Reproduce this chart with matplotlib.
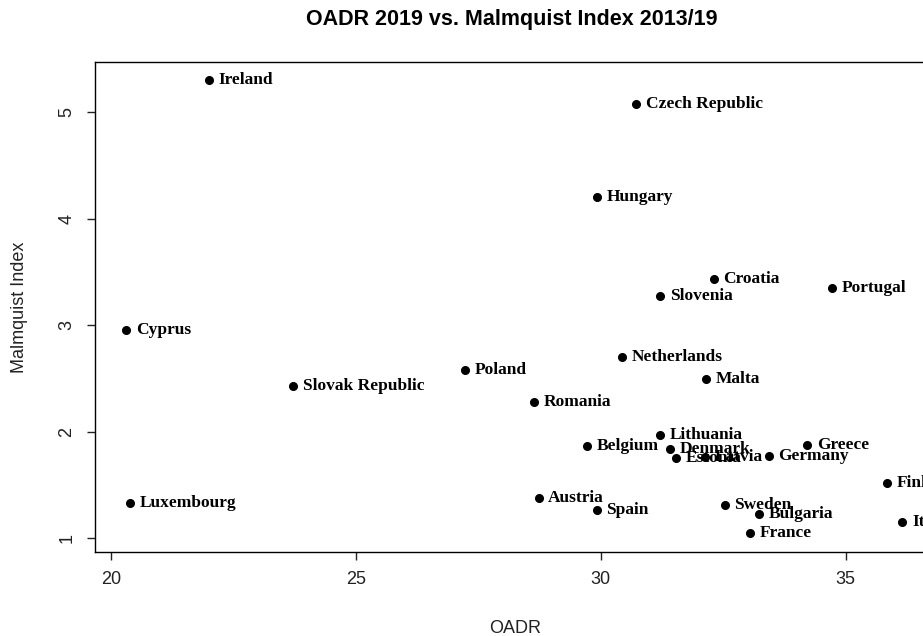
import numpy as np
import matplotlib
matplotlib.use("Agg")
import matplotlib.pyplot as plt

# data
countries = ["Ireland", "Czech Republic", "Hungary", "Croatia", "Portugal", "Slovenia",
             "Cyprus", "Netherlands", "Poland", "Malta", "Slovak Republic", "Romania",
             "Lithuania", "Belgium", "Denmark", "Greece", "Estonia", "Latvia", "Germany",
             "Finland", "Luxembourg", "Austria", "Spain", "Sweden", "Bulgaria", "France", "Italy"]
oadr = [22.0, 30.73, 29.92, 32.31, 34.73, 31.22,
        20.31, 30.43, 27.22, 32.14, 23.71, 28.63,
        31.22, 29.71, 31.41, 34.22, 31.53, 32.12, 33.43,
        35.84, 20.39, 28.73, 29.92, 32.53, 33.24, 33.04, 36.16]
malmquist = [5.30, 5.075, 4.20, 3.43, 3.35, 3.27,
             2.95, 2.70, 2.58, 2.49, 2.43, 2.28,
             1.97, 1.86, 1.84, 1.87, 1.75, 1.76, 1.77,
             1.52, 1.33, 1.38, 1.26, 1.31, 1.225, 1.05, 1.15]

W, H = 923, 636
fig = plt.figure(figsize=(W / 100, H / 100), dpi=100)
# plot region runs past the right edge, as in the cropped reference
ax = fig.add_axes([95 / W, (H - 552) / H, (941 - 95) / W, (552 - 62) / H])

ax.plot(oadr, malmquist, "o", color="black", markersize=5.5, linestyle="none")
for name, x, y in zip(countries, oadr, malmquist):
    ax.annotate(name, (x, y), xytext=(7, 0), textcoords="offset points",
                va="center", ha="left", fontsize=12.5, fontweight="bold",
                family="Liberation Serif", annotation_clip=False)

ax.set_xlim(19.67, 36.95)
ax.set_ylim(0.869, 5.47)
ax.set_xticks([20, 25, 30, 35])
ax.set_yticks([1, 2, 3, 4, 5])
for lab in ax.get_yticklabels():
    lab.set_rotation(90)
    lab.set_va("center")
ax.tick_params(direction="out", length=6, width=1, labelsize=13, pad=8, colors="#222222")
for sp in ax.spines.values():
    sp.set_linewidth(1)
    sp.set_color("black")

ax.set_xlabel("OADR", fontsize=13, family="Liberation Sans", color="#222222")
ax.xaxis.set_label_coords((515 - 95) / (941 - 95), -(620 - 552) / (552 - 62))
ax.set_ylabel("Malmquist Index", fontsize=13, family="Liberation Sans", color="#222222")
ax.yaxis.set_label_coords(-(95 - 28) / (941 - 95), 0.5)
for lab in ax.get_xticklabels() + ax.get_yticklabels():
    lab.set_family("Liberation Sans")

fig.text(512 / W, 1 - 20 / H, "OADR 2019 vs. Malmquist Index 2013/19", ha="center",
         va="center", fontsize=15.5, fontweight="bold", family="Liberation Sans")

fig.savefig("out.png", dpi=100)
